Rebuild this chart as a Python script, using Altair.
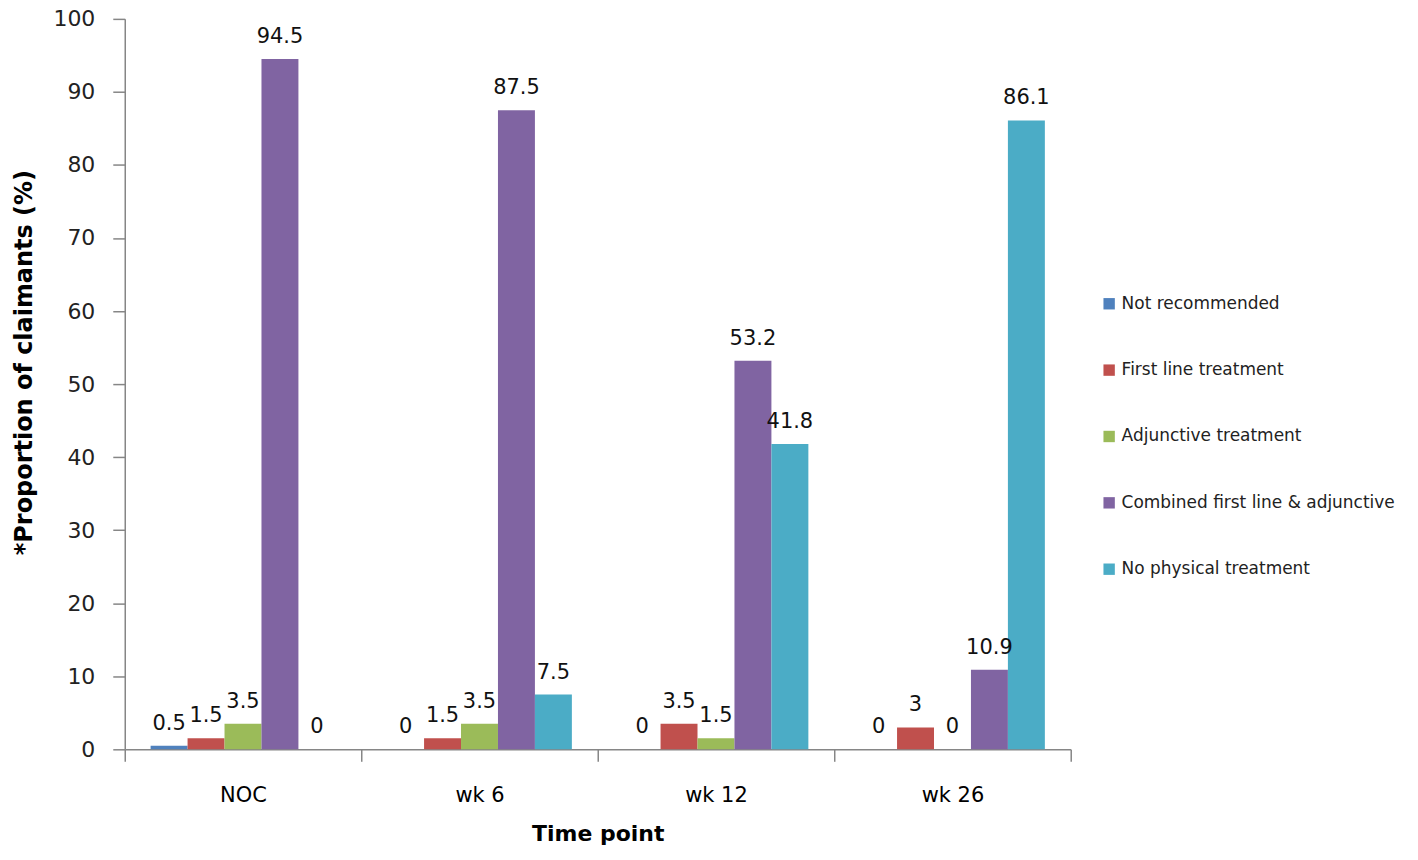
import altair as alt
import pandas as pd

timepoints = ["NOC", "wk 6", "wk 12", "wk 26"]
categories = [
    "Not recommended",
    "First line treatment",
    "Adjunctive treatment",
    "Combined first line & adjunctive",
    "No physical treatment",
]
colors = ["#4F81BD", "#C0504D", "#9BBB59", "#8064A2", "#4BACC6"]

values = {
    "NOC": [0.5, 1.5, 3.5, 94.5, 0],
    "wk 6": [0, 1.5, 3.5, 87.5, 7.5],
    "wk 12": [0, 3.5, 1.5, 53.2, 41.8],
    "wk 26": [0, 3, 0, 10.9, 86.1],
}

rows = []
for t in timepoints:
    for i, c in enumerate(categories):
        v = values[t][i]
        rows.append({"time": t, "cat": c, "order": i, "value": v, "label": f"{v:g}"})
df = pd.DataFrame(rows)

FONT = "DejaVu Sans"

x = alt.X(
    "time:N",
    sort=timepoints,
    scale=alt.Scale(paddingInner=0, paddingOuter=0),
    axis=alt.Axis(
        title="Time point",
        titleFont=FONT,
        titleFontSize=22,
        titleFontWeight="bold",
        titleColor="#000000",
        titlePadding=18,
        labelFont=FONT,
        labelFontSize=21,
        labelColor="#000000",
        labelPadding=23,
        labelAngle=0,
        tickBand="extent",
        tickSize=12,
        tickColor="#868686",
        tickWidth=1.5,
        domainColor="#868686",
        domainWidth=1.5,
    ),
)
xoff_scale = alt.Scale(paddingInner=0, paddingOuter=0.7)
xoff = alt.XOffset("cat:N", sort=categories, scale=xoff_scale)

bars = alt.Chart(df).mark_bar().encode(
    x=x,
    xOffset=xoff,
    y=alt.Y(
        "value:Q",
        scale=alt.Scale(domain=[0, 100], nice=False),
        axis=alt.Axis(
            title="*Proportion of claimants  (%)",
            titleFont=FONT,
            titleFontSize=24,
            titleFontWeight="bold",
            titleColor="#000000",
            titlePadding=16,
            titleY=344,
            values=list(range(0, 101, 10)),
            labelFont=FONT,
            labelFontSize=22,
            labelColor="#222222",
            labelPadding=18,
            tickSize=12,
            tickColor="#868686",
            tickWidth=1.5,
            domainColor="#868686",
            domainWidth=1.5,
            grid=False,
        ),
    ),
    color=alt.Color(
        "cat:N",
        sort=categories,
        scale=alt.Scale(domain=categories, range=colors),
        legend=alt.Legend(
            title=None,
            orient="none",
            legendX=978,
            legendY=277,
            symbolType="square",
            symbolSize=130,
            symbolStrokeWidth=0,
            labelFont=FONT,
            labelFontSize=17,
            labelColor="#222222",
            labelOffset=4,
            rowPadding=48.5,
            labelLimit=400,
        ),
    ),
)

labels = alt.Chart(df).mark_text(
    baseline="bottom", dy=-12, font=FONT, fontSize=21, color="#111111"
).encode(
    x=alt.X("time:N", sort=timepoints),
    xOffset=alt.XOffset("cat:N", sort=categories, scale=xoff_scale),
    y="value:Q",
    text="label:N",
)

chart = (
    alt.layer(bars, labels)
    .properties(
        width=948,
        height=732,
        autosize=alt.AutoSizeParams(type="none"),
        padding={"left": 117, "top": 10, "right": 340, "bottom": 98},
    )
    .configure_view(stroke=None)
    .configure_axis(grid=False)
)

chart.save("out.html", embed_options={"renderer": "svg", "actions": False})
